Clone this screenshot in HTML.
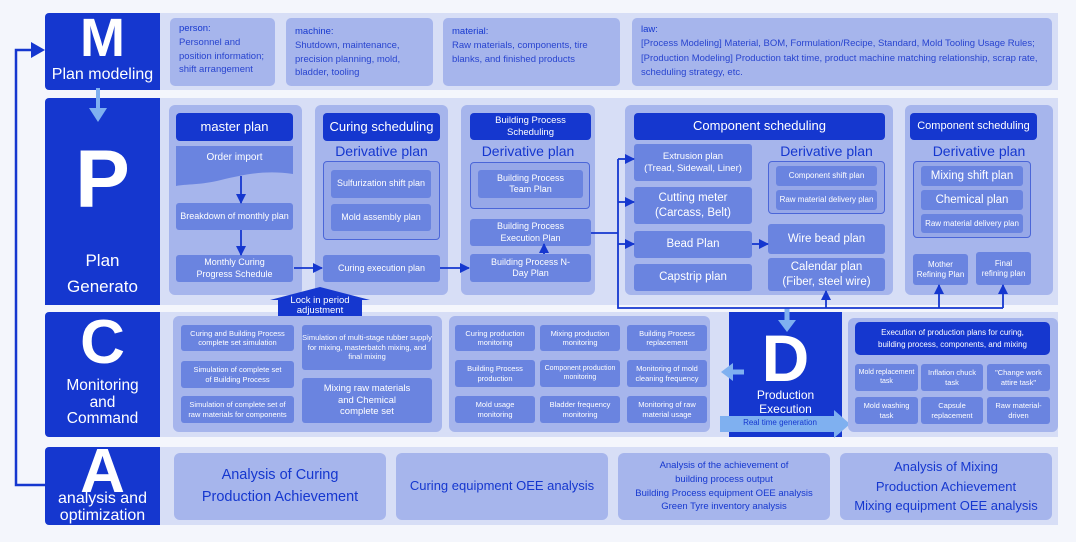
<!DOCTYPE html>
<html><head><meta charset="utf-8"><style>
*{margin:0;padding:0;box-sizing:border-box}
body{width:1076px;height:542px;background:#f4f6fc;font-family:"Liberation Sans",sans-serif;position:relative;overflow:hidden}
.a{position:absolute}
.b{position:absolute;display:flex;align-items:center;justify-content:center;text-align:center;color:#fff;line-height:1.25}
.dk{background:#1537cf;color:#fff}
.band{background:#d7def6}
.pn{background:#a6b5ec;border-radius:6px}
.bx{background:#6a84e0;border-radius:3px;font-size:9px}
.dv{color:#1537cf;font-size:14px}
.mt{position:absolute;background:#a6b5ec;border-radius:5px;color:#2844cf;font-size:9.5px;line-height:1.45;padding:4px 9px}
.mt b{font-weight:normal;color:#1537cf}
.L{font-weight:bold;font-size:78px;line-height:1}
</style></head><body>
<div class="a band" style="left:160px;top:13px;width:898px;height:77px"></div>
<div class="a band" style="left:160px;top:98px;width:898px;height:207px"></div>
<div class="a band" style="left:160px;top:312px;width:898px;height:125px"></div>
<div class="a band" style="left:160px;top:447px;width:898px;height:78px"></div>
<div class="a dk" style="left:45px;top:13px;width:115px;height:77px;border-radius:4px 0 0 4px"></div>
<div class="b L" style="left:45px;top:16px;width:115px;height:44px;font-size:54px">M</div>
<div class="b" style="left:45px;top:65px;width:115px;font-size:16px">Plan modeling</div>
<div class="a dk" style="left:45px;top:98px;width:115px;height:207px;border-radius:4px 0 0 0"></div>
<div class="b L" style="left:45px;top:145px;width:115px;height:70px;font-size:82px">P</div>
<div class="b" style="left:45px;top:248px;width:115px;font-size:17px;line-height:26px">Plan<br>Generato</div>
<div class="a dk" style="left:45px;top:312px;width:115px;height:125px;border-radius:4px 0 0 4px"></div>
<div class="b L" style="left:45px;top:318px;width:115px;height:50px;font-size:62px">C</div>
<div class="b" style="left:45px;top:378px;width:115px;font-size:15.5px;line-height:16.5px">Monitoring<br>and<br>Command</div>
<div class="a dk" style="left:45px;top:447px;width:115px;height:78px;border-radius:4px 0 0 4px"></div>
<div class="b L" style="left:45px;top:447px;width:115px;height:50px;font-size:62px">A</div>
<div class="b" style="left:45px;top:490px;width:115px;font-size:16px;line-height:17px">analysis and<br>optimization</div>
<div class="mt" style="left:170px;top:18px;width:105px;height:68px"><b>person:</b><br>Personnel and position information; shift arrangement</div>
<div class="mt" style="left:286px;top:18px;width:147px;height:68px;padding-top:7px"><b>machine:</b><br>Shutdown, maintenance, precision planning, mold, bladder, tooling</div>
<div class="mt" style="left:443px;top:18px;width:177px;height:68px;padding-top:7px"><b>material:</b><br>Raw materials, components, tire blanks, and finished products</div>
<div class="mt" style="left:632px;top:18px;width:420px;height:68px;padding-top:5px;line-height:1.5"><b>law:</b><br>[Process Modeling] Material, BOM, Formulation/Recipe, Standard, Mold Tooling Usage Rules; [Production Modeling] Production takt time, product machine matching relationship, scrap rate, scheduling strategy, etc.</div>
<div class="a pn" style="left:169px;top:105px;width:133px;height:190px"></div>
<div class="a pn" style="left:315px;top:105px;width:133px;height:190px"></div>
<div class="a pn" style="left:461px;top:105px;width:134px;height:190px"></div>
<div class="a pn" style="left:625px;top:105px;width:268px;height:190px"></div>
<div class="a pn" style="left:905px;top:105px;width:148px;height:190px"></div>
<div class="b dk" style="left:176px;top:113px;width:117px;height:28px;border-radius:4px;font-size:13px">master plan</div>
<svg class="a" style="left:176px;top:146px" width="117" height="42"><path d="M0,0H117V28C90,24 70,28 45,34C25,39 10,38 0,40Z" fill="#6a84e0"/></svg>
<div class="b" style="left:176px;top:152px;width:117px;font-size:10px">Order import</div>
<div class="b bx" style="left:176px;top:203px;width:117px;height:27px">Breakdown of monthly plan</div>
<div class="b bx" style="left:176px;top:255px;width:117px;height:27px">Monthly Curing<br>Progress Schedule</div>
<div class="b dk" style="left:323px;top:113px;width:117px;height:28px;border-radius:4px;font-size:13px">Curing scheduling</div>
<div class="b dv" style="left:315px;top:143px;width:133px">Derivative plan</div>
<div class="a" style="left:323px;top:161px;width:117px;height:79px;border:1px solid #4b66d8;border-radius:4px;background:#97a8e8"></div>
<div class="b bx" style="left:331px;top:170px;width:100px;height:28px">Sulfurization shift plan</div>
<div class="b bx" style="left:331px;top:204px;width:100px;height:27px">Mold assembly plan</div>
<div class="b bx" style="left:323px;top:255px;width:117px;height:27px">Curing execution plan</div>
<div class="b dk" style="left:470px;top:113px;width:121px;height:27px;border-radius:4px;font-size:9.5px">Building Process<br>Scheduling</div>
<div class="b dv" style="left:461px;top:143px;width:134px">Derivative plan</div>
<div class="a" style="left:470px;top:162px;width:120px;height:47px;border:1px solid #4b66d8;border-radius:4px;background:#97a8e8"></div>
<div class="b bx" style="left:478px;top:170px;width:105px;height:28px">Building Process<br>Team Plan</div>
<div class="b bx" style="left:470px;top:219px;width:121px;height:27px">Building Process<br>Execution Plan</div>
<div class="b bx" style="left:470px;top:254px;width:121px;height:28px">Building Process N-<br>Day Plan</div>
<div class="b dk" style="left:634px;top:113px;width:251px;height:27px;border-radius:4px;font-size:13px">Component scheduling</div>
<div class="b bx" style="left:634px;top:144px;width:118px;height:37px;font-size:9.5px">Extrusion plan<br>(Tread, Sidewall, Liner)</div>
<div class="b bx" style="left:634px;top:187px;width:118px;height:37px;font-size:11.5px">Cutting meter<br>(Carcass, Belt)</div>
<div class="b bx" style="left:634px;top:231px;width:118px;height:27px;font-size:11.5px">Bead Plan</div>
<div class="b bx" style="left:634px;top:264px;width:118px;height:27px;font-size:11.5px">Capstrip plan</div>
<div class="b dv" style="left:768px;top:143px;width:117px">Derivative plan</div>
<div class="a" style="left:768px;top:161px;width:117px;height:53px;border:1px solid #4b66d8;border-radius:4px;background:#97a8e8"></div>
<div class="b bx" style="left:776px;top:166px;width:101px;height:20px;font-size:8px">Component shift plan</div>
<div class="b bx" style="left:776px;top:190px;width:101px;height:20px;font-size:8px">Raw material delivery plan</div>
<div class="b bx" style="left:768px;top:224px;width:117px;height:30px;font-size:11.5px">Wire bead plan</div>
<div class="b bx" style="left:768px;top:258px;width:117px;height:33px;font-size:11.5px">Calendar plan<br>(Fiber, steel wire)</div>
<div class="b dk" style="left:910px;top:113px;width:127px;height:27px;border-radius:4px;font-size:11px">Component scheduling</div>
<div class="b dv" style="left:905px;top:143px;width:148px">Derivative plan</div>
<div class="a" style="left:913px;top:161px;width:118px;height:77px;border:1px solid #4b66d8;border-radius:4px;background:#97a8e8"></div>
<div class="b bx" style="left:921px;top:166px;width:102px;height:20px;font-size:11.5px">Mixing shift plan</div>
<div class="b bx" style="left:921px;top:190px;width:102px;height:20px;font-size:11.5px">Chemical plan</div>
<div class="b bx" style="left:921px;top:214px;width:102px;height:19px;font-size:8px">Raw material delivery plan</div>
<div class="b bx" style="left:913px;top:254px;width:55px;height:31px;font-size:8px">Mother<br>Refining Plan</div>
<div class="b bx" style="left:976px;top:252px;width:55px;height:33px;font-size:8px">Final<br>refining plan</div>
<div class="a pn" style="left:173px;top:316px;width:269px;height:116px"></div>
<div class="b bx" style="left:181px;top:325px;width:113px;height:26px;font-size:7.5px">Curing and Building Process<br>complete set simulation</div>
<div class="b bx" style="left:181px;top:361px;width:113px;height:27px;font-size:7.5px">Simulation of complete set<br>of Building Process</div>
<div class="b bx" style="left:181px;top:396px;width:113px;height:27px;font-size:7.5px">Simulation of complete set of<br>raw materials for components</div>
<div class="b bx" style="left:302px;top:325px;width:130px;height:45px;font-size:7.5px">Simulation of multi-stage rubber supply for mixing, masterbatch mixing, and final mixing</div>
<div class="b bx" style="left:302px;top:378px;width:130px;height:45px;font-size:9.5px">Mixing raw materials<br>and Chemical<br>complete set</div>
<div class="a pn" style="left:449px;top:316px;width:261px;height:116px"></div>
<div class="b bx" style="left:455px;top:325px;width:80px;height:26px;font-size:7.5px">Curing production<br>monitoring</div>
<div class="b bx" style="left:540px;top:325px;width:80px;height:26px;font-size:7.5px">Mixing production<br>monitoring</div>
<div class="b bx" style="left:627px;top:325px;width:80px;height:26px;font-size:7.5px">Building Process<br>replacement</div>
<div class="b bx" style="left:455px;top:360px;width:80px;height:27px;font-size:7.5px">Building Process<br>production</div>
<div class="b bx" style="left:540px;top:360px;width:80px;height:27px;font-size:7px">Component production<br>monitoring</div>
<div class="b bx" style="left:627px;top:360px;width:80px;height:27px;font-size:7.5px">Monitoring of mold<br>cleaning frequency</div>
<div class="b bx" style="left:455px;top:396px;width:80px;height:27px;font-size:7.5px">Mold usage<br>monitoring</div>
<div class="b bx" style="left:540px;top:396px;width:80px;height:27px;font-size:7.5px">Bladder frequency<br>monitoring</div>
<div class="b bx" style="left:627px;top:396px;width:80px;height:27px;font-size:7.5px">Monitoring of raw<br>material usage</div>
<div class="a dk" style="left:729px;top:312px;width:113px;height:125px"></div>
<div class="b L" style="left:729px;top:330px;width:113px;height:55px;font-size:66px">D</div>
<div class="b" style="left:729px;top:388px;width:113px;font-size:12px;line-height:14px">Production<br>Execution</div>
<svg class="a" style="left:700px;top:300px" width="160" height="140">
<line x1="87" y1="8" x2="87" y2="22" stroke="#7fb0f0" stroke-width="5"/>
<path d="M78,20L96,20L87,32z" fill="#7fb0f0"/>
<line x1="44" y1="72" x2="30" y2="72" stroke="#7fb0f0" stroke-width="5"/>
<path d="M33,63L33,81L21,72z" fill="#7fb0f0"/>
<rect x="20" y="116" width="120" height="16" fill="#7fb0f0"/>
<path d="M134,110L150,124L134,138z" fill="#7fb0f0"/>
</svg>
<div class="b" style="left:720px;top:418px;width:120px;font-size:8px;color:#1537cf">Real time generation</div>
<div class="a pn" style="left:848px;top:318px;width:210px;height:114px"></div>
<div class="b dk" style="left:855px;top:322px;width:195px;height:33px;border-radius:5px;font-size:8px;line-height:1.5">Execution of production plans for curing,<br>building process, components, and mixing</div>
<div class="b bx" style="left:855px;top:364px;width:63px;height:27px;font-size:7px">Mold replacement<br>task</div>
<div class="b bx" style="left:921px;top:364px;width:62px;height:27px;font-size:7.5px">Inflation chuck<br>task</div>
<div class="b bx" style="left:987px;top:364px;width:63px;height:27px;font-size:7.5px">"Change work<br>attire task"</div>
<div class="b bx" style="left:855px;top:397px;width:63px;height:27px;font-size:7.5px">Mold washing<br>task</div>
<div class="b bx" style="left:921px;top:397px;width:62px;height:27px;font-size:7.5px">Capsule<br>replacement</div>
<div class="b bx" style="left:987px;top:397px;width:63px;height:27px;font-size:7.5px">Raw material-<br>driven</div>
<div class="b pn" style="left:174px;top:453px;width:212px;height:67px;color:#1537cf;font-size:14.5px;line-height:1.5">Analysis of Curing<br>Production Achievement</div>
<div class="b pn" style="left:396px;top:453px;width:212px;height:67px;color:#1537cf;font-size:13px">Curing equipment OEE analysis</div>
<div class="b pn" style="left:618px;top:453px;width:212px;height:67px;color:#1537cf;font-size:9.5px;line-height:1.45">Analysis of the achievement of<br>building process output<br>Building Process equipment OEE analysis<br>Green Tyre inventory analysis</div>
<div class="b pn" style="left:840px;top:453px;width:212px;height:67px;color:#1537cf;font-size:13px;line-height:1.5">Analysis of Mixing<br>Production Achievement<br>Mixing equipment OEE analysis</div>
<svg class="a" style="left:0;top:0" width="1076" height="542">
<defs><marker id="ah" markerUnits="userSpaceOnUse" markerWidth="10" markerHeight="10" refX="9" refY="5" orient="auto"><path d="M0,0L10,5L0,10z" fill="#1537cf"/></marker></defs>
<polyline points="45,485 16,485 16,50 38,50" fill="none" stroke="#1537cf" stroke-width="2.5"/>
<path d="M31,42L45,50L31,58z" fill="#1537cf"/>
<line x1="98" y1="88" x2="98" y2="110" stroke="#7fb0f0" stroke-width="4"/>
<path d="M89,108L107,108L98,122z" fill="#7fb0f0"/>
<g stroke="#1537cf" stroke-width="1.8" fill="none">
<line x1="241" y1="176" x2="241" y2="203" marker-end="url(#ah)"/>
<line x1="241" y1="230" x2="241" y2="255" marker-end="url(#ah)"/>
<line x1="294" y1="268" x2="322" y2="268" marker-end="url(#ah)"/>
<line x1="440" y1="268" x2="469" y2="268" marker-end="url(#ah)"/>
<line x1="544" y1="254" x2="544" y2="244" marker-end="url(#ah)"/>
<polyline points="591,233 618,233"/>
<polyline points="618,159 618,308 1003,308"/>
<line x1="618" y1="159" x2="634" y2="159" marker-end="url(#ah)"/>
<line x1="618" y1="202" x2="634" y2="202" marker-end="url(#ah)"/>
<line x1="618" y1="244" x2="634" y2="244" marker-end="url(#ah)"/>
<line x1="752" y1="244" x2="768" y2="244" marker-end="url(#ah)"/>
<line x1="826" y1="308" x2="826" y2="291" marker-end="url(#ah)"/>
<line x1="939" y1="308" x2="939" y2="285" marker-end="url(#ah)"/>
<line x1="1003" y1="308" x2="1003" y2="285" marker-end="url(#ah)"/>
</g>
<polygon points="270,300 320,287 370,300 362,300 362,316 278,316 278,300" fill="#1537cf"/>
</svg>
<div class="b" style="left:278px;top:296px;width:84px;font-size:9.5px;line-height:10px">Lock in period<br>adjustment</div>
</body></html>
